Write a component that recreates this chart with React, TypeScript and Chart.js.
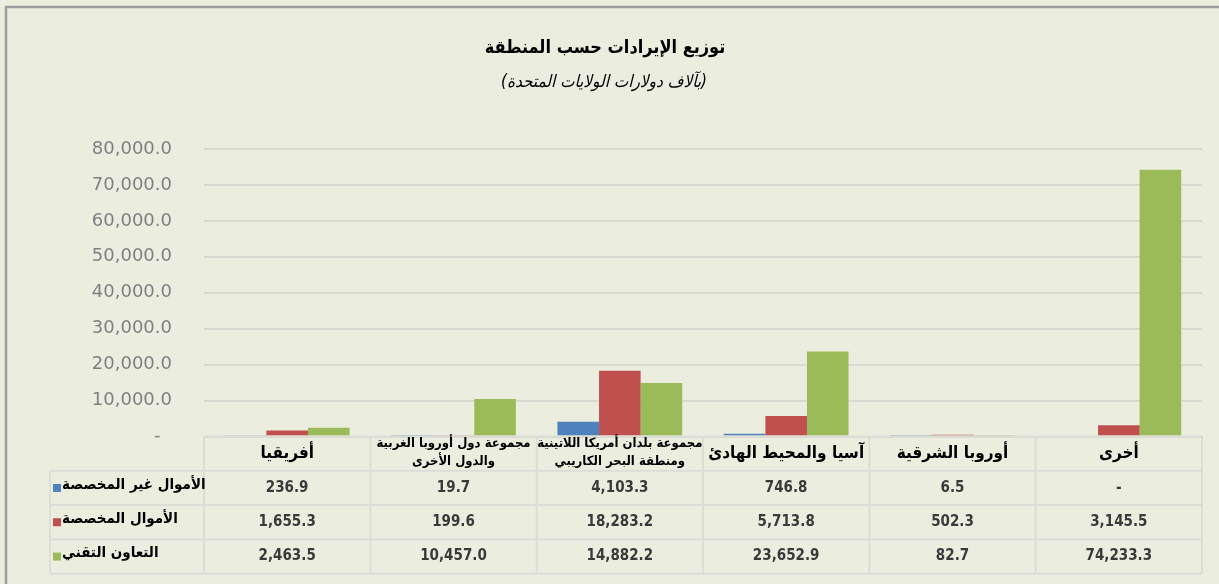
import React, { useEffect, useRef } from "react";
import { Chart, registerables } from "chart.js";

Chart.register(...registerables);

const title = "توزيع الإيرادات حسب المنطقة";
const subtitle = "(بآلاف دولارات الولايات المتحدة)";

const categories: string[][] = [
  ["أفريقيا"],
  ["مجموعة دول أوروبا الغربية", "والدول الأخرى"],
  ["مجموعة بلدان أمريكا اللاتينية", "ومنطقة البحر الكاريبي"],
  ["آسيا والمحيط الهادئ"],
  ["أوروبا الشرقية"],
  ["أخرى"],
];

const seriesNames = ["الأموال غير المخصصة", "الأموال المخصصة", "التعاون التقني"];
const unearmarked = [236.9, 19.7, 4103.3, 746.8, 6.5, 0];
const earmarked = [1655.3, 199.6, 18283.2, 5713.8, 502.3, 3145.5];
const technical = [2463.5, 10457.0, 14882.2, 23652.9, 82.7, 74233.3];
const seriesColors = ["#4F81BD", "#C0504D", "#9BBB59"];

const yTicks = [0, 10000, 20000, 30000, 40000, 50000, 60000, 70000, 80000];

const fmt = (v: number) =>
  v === 0
    ? "-"
    : v.toLocaleString("en-US", { minimumFractionDigits: 1, maximumFractionDigits: 1 });

const AR = '"DejaVu Sans Condensed", "DejaVu Sans"';

const tablePlugin = {
  id: "dataTable",
  beforeDraw(chart: any) {
    const { ctx, width, height } = chart;
    ctx.save();
    ctx.fillStyle = "#EBEEDF";
    ctx.fillRect(0, 0, width, height);
    ctx.strokeStyle = "#9d9d9d";
    ctx.lineWidth = 2.5;
    ctx.beginPath();
    ctx.moveTo(5, 7);
    ctx.lineTo(width, 7);
    ctx.moveTo(6, 7);
    ctx.lineTo(6, height);
    ctx.stroke();

    ctx.fillStyle = "#000";
    ctx.textAlign = "center";
    ctx.textBaseline = "middle";
    ctx.direction = "rtl";
    ctx.font = `bold 18px ${AR}`;
    ctx.fillText(title, 605, 48);
    ctx.font = `italic 17px ${AR}`;
    ctx.fillText(subtitle, 604, 83);
    ctx.restore();
  },
  afterDraw(chart: any) {
    const { ctx, chartArea } = chart;
    const n = categories.length;
    const left = chartArea.left;
    const right = chartArea.right;
    const colW = (right - left) / n;
    const top = chartArea.bottom;
    const rowH = 34.3;
    const labelLeft = 50;
    const rowsY = [top + rowH, top + 2 * rowH, top + 3 * rowH, top + 4 * rowH];
    const series = [unearmarked, earmarked, technical];

    ctx.save();
    ctx.strokeStyle = "#dcded6";
    ctx.lineWidth = 2;
    ctx.beginPath();
    ctx.moveTo(left, top);
    ctx.lineTo(right, top);
    for (const y of rowsY) {
      ctx.moveTo(labelLeft, y);
      ctx.lineTo(right, y);
    }
    ctx.moveTo(labelLeft, rowsY[0]);
    ctx.lineTo(labelLeft, rowsY[3]);
    for (let i = 0; i <= n; i++) {
      const x = left + i * colW;
      ctx.moveTo(x, top);
      ctx.lineTo(x, rowsY[3]);
    }
    ctx.stroke();

    // header
    ctx.fillStyle = "#000";
    ctx.textAlign = "center";
    ctx.textBaseline = "middle";
    ctx.direction = "rtl";
    categories.forEach((lines, i) => {
      const cx = left + (i + 0.5) * colW;
      if (lines.length === 1) {
        ctx.font = `bold 17px ${AR}`;
        ctx.fillText(lines[0], cx, top + rowH / 2);
      } else {
        ctx.font = `bold 13px ${AR}`;
        ctx.fillText(lines[0], cx, top + 7);
        ctx.fillText(lines[1], cx, top + 25);
      }
    });

    // values
    ctx.direction = "ltr";
    ctx.fillStyle = "#3a3a3a";
    ctx.font = 'bold 15px "DejaVu Sans Condensed", "DejaVu Sans"';
    series.forEach((vals, r) => {
      const cy = rowsY[r] + rowH / 2;
      vals.forEach((v, i) => {
        const cx = left + (i + 0.5) * colW;
        ctx.fillText(fmt(v), cx, cy);
      });
    });

    // series labels
    seriesNames.forEach((name, r) => {
      const cy = rowsY[r] + rowH / 2;
      ctx.fillStyle = seriesColors[r];
      ctx.fillRect(53, cy - 4, 8, 8);
      ctx.fillStyle = "#000";
      ctx.direction = "rtl";
      ctx.textAlign = "left";
      ctx.font = `bold 15px ${AR}`;
      ctx.fillText(name, 62, cy - 3);
    });
    ctx.restore();
  },
};

export default function App() {
  const ref = useRef<HTMLCanvasElement | null>(null);
  useEffect(() => {
    if (!ref.current) return;
    const chart = new Chart(ref.current, {
      type: "bar",
      data: {
        labels: categories.map((c) => c.join(" ")),
        datasets: [
          { label: seriesNames[0], data: unearmarked, backgroundColor: seriesColors[0] },
          { label: seriesNames[1], data: earmarked, backgroundColor: seriesColors[1] },
          { label: seriesNames[2], data: technical, backgroundColor: seriesColors[2] },
        ],
      },
      options: {
        responsive: false,
        animation: false,
        datasets: { bar: { barPercentage: 1, categoryPercentage: 0.75 } },
        layout: { padding: { top: 149, bottom: 147.5, left: 0, right: 17 } },
        plugins: {
          legend: { display: false },
          title: { display: false },
          tooltip: { enabled: false },
        },
        scales: {
          x: { display: false, grid: { display: false } },
          y: {
            min: 0,
            max: 80000,
            afterBuildTicks: (scale: any) => {
              scale.ticks = yTicks.map((v) => ({ value: v }));
            },
            afterFit: (scale: any) => {
              scale.width = 204;
            },
            ticks: {
              padding: 32,
              color: "#808080",
              font: { family: '"DejaVu Sans"', size: 18 },
              callback: (v: any) => (Number(v) === 0 ? "-  " : fmt(Number(v))),
            },
            grid: { color: "#d9dbd3", lineWidth: 2, drawTicks: false },
            border: { display: false },
          },
        },
      } as any,
      plugins: [tablePlugin],
    });
    return () => chart.destroy();
  }, []);
  return (
    <div style={{ position: "absolute", left: 0, top: 0, width: 1219, height: 584 }}>
      <canvas ref={ref} width={1219} height={584} style={{ display: "block" }} />
    </div>
  );
}
